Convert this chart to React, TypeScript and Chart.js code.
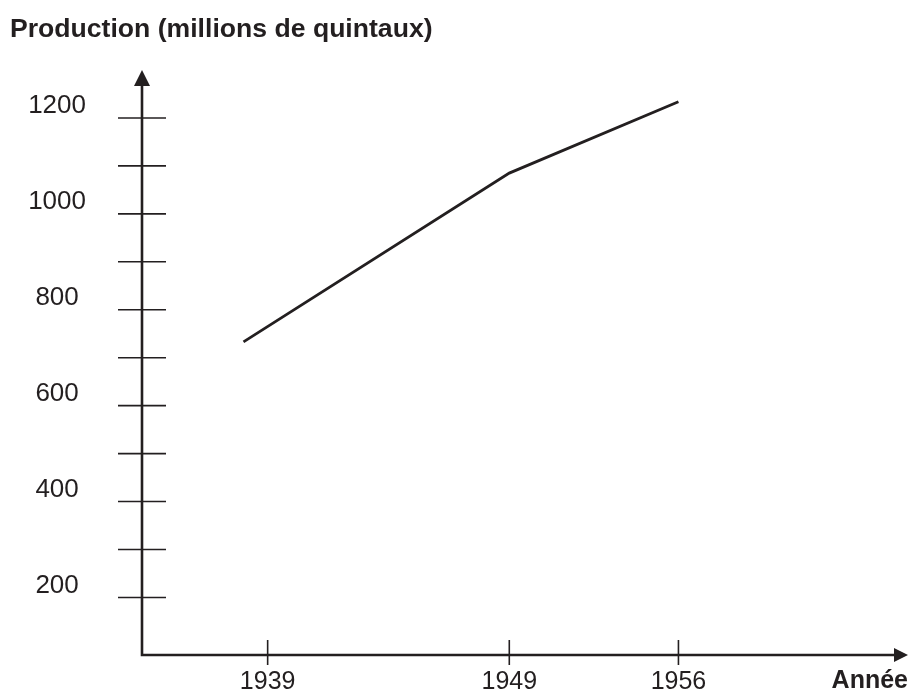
import { useEffect, useRef } from 'react';
import { Chart, registerables } from 'chart.js';

Chart.register(...registerables);

// ---- data ----
const years = [1938, 1949, 1956];
const production = [733, 1085, 1234];
const xTickValues = [1939, 1949, 1956];
const yTickValues = [200, 300, 400, 500, 600, 700, 800, 900, 1000, 1100, 1200];
const yLabelValues = [200, 400, 600, 800, 1000, 1200];
const chartTitle = 'Production (millions de quintaux)';
const xAxisTitle = 'Année';

const INK = '#231f20';
const FONT = "'Liberation Sans', Arial, Helvetica, sans-serif";

const axesPlugin = {
  id: 'axesDecor',
  afterDatasetsDraw(chart: any) {
    const { ctx, chartArea, scales } = chart;
    const { left, right, top, bottom } = chartArea;
    const xs = scales.x;
    const ys = scales.y;
    ctx.save();
    ctx.strokeStyle = INK;
    ctx.fillStyle = INK;

    // crossing tick marks
    ctx.lineWidth = 1.6;
    ctx.lineCap = 'butt';
    ys.ticks.forEach((t: any) => {
      const py = ys.getPixelForValue(t.value);
      ctx.beginPath();
      ctx.moveTo(left - 24, py);
      ctx.lineTo(left + 24, py);
      ctx.stroke();
    });
    xs.ticks.forEach((t: any) => {
      const px = xs.getPixelForValue(t.value);
      ctx.beginPath();
      ctx.moveTo(px, bottom - 15);
      ctx.lineTo(px, bottom + 10);
      ctx.stroke();
    });

    // axis lines
    ctx.lineWidth = 2.6;
    ctx.lineCap = 'square';
    ctx.beginPath();
    ctx.moveTo(left, top + 14);
    ctx.lineTo(left, bottom);
    ctx.lineTo(right - 12, bottom);
    ctx.stroke();

    // arrowheads
    ctx.beginPath();
    ctx.moveTo(left, top);
    ctx.lineTo(left - 8, top + 16);
    ctx.lineTo(left + 8, top + 16);
    ctx.closePath();
    ctx.fill();

    ctx.beginPath();
    ctx.moveTo(right, bottom);
    ctx.lineTo(right - 14, bottom - 7);
    ctx.lineTo(right - 14, bottom + 7);
    ctx.closePath();
    ctx.fill();
    ctx.restore();
  },
};

export default function App() {
  const canvasRef = useRef<HTMLCanvasElement | null>(null);

  useEffect(() => {
    const canvas = canvasRef.current;
    if (!canvas) return;
    const chart = new Chart(canvas, {
      type: 'line',
      data: {
        datasets: [
          {
            data: years.map((yr, i) => ({ x: yr, y: production[i] })),
            borderColor: INK,
            borderWidth: 2.8,
            pointRadius: 0,
            tension: 0,
            fill: false,
          },
        ],
      },
      options: {
        animation: false,
        responsive: false,
        devicePixelRatio: 1,
        layout: { padding: { left: 10, right: 3, top: 0, bottom: 0 } },
        plugins: {
          legend: { display: false },
          tooltip: { enabled: false },
          title: {
            display: true,
            text: chartTitle,
            align: 'start',
            color: INK,
            font: { family: FONT, size: 26.6, weight: 'bold', lineHeight: 1.2 },
            padding: { top: 13.6, bottom: 24.5 },
          },
        },
        scales: {
          x: {
            type: 'linear',
            min: 1933.8,
            max: 1965.5,
            afterBuildTicks: (s: any) => {
              s.ticks = xTickValues.map((v) => ({ value: v }));
            },
            afterFit: (s: any) => {
              s.height = 38;
            },
            grid: { display: false, drawTicks: true, tickLength: 12 },
            border: { display: false },
            ticks: {
              color: INK,
              font: { family: FONT, size: 25 },
              padding: 0,
              maxRotation: 0,
              autoSkip: false,
              callback: (v: any) => String(v),
            },
            title: {
              display: true,
              text: xAxisTitle,
              align: 'end',
              color: INK,
              font: { family: FONT, size: 25, weight: 'bold', lineHeight: 0.92 },
              padding: 0,
            },
          },
          y: {
            type: 'linear',
            min: 80,
            max: 1300,
            afterBuildTicks: (s: any) => {
              s.ticks = yTickValues.map((v) => ({ value: v }));
            },
            afterFit: (s: any) => {
              s.width = 132;
            },
            grid: { display: false, drawTicks: true, tickLength: 56 },
            border: { display: false },
            ticks: {
              color: INK,
              font: { family: FONT, size: 26 },
              crossAlign: 'center',
              padding: 0,
              labelOffset: -12,
              autoSkip: false,
              callback: (v: any) => (yLabelValues.includes(Number(v)) ? String(v) : ''),
            },
          },
        },
      },
      plugins: [axesPlugin],
    } as any);
    return () => chart.destroy();
  }, []);

  return (
    <div style={{ position: 'absolute', left: 0, top: 0, width: 911, height: 693, background: '#ffffff' }}>
      <canvas ref={canvasRef} width={911} height={693} style={{ display: 'block' }} />
    </div>
  );
}
